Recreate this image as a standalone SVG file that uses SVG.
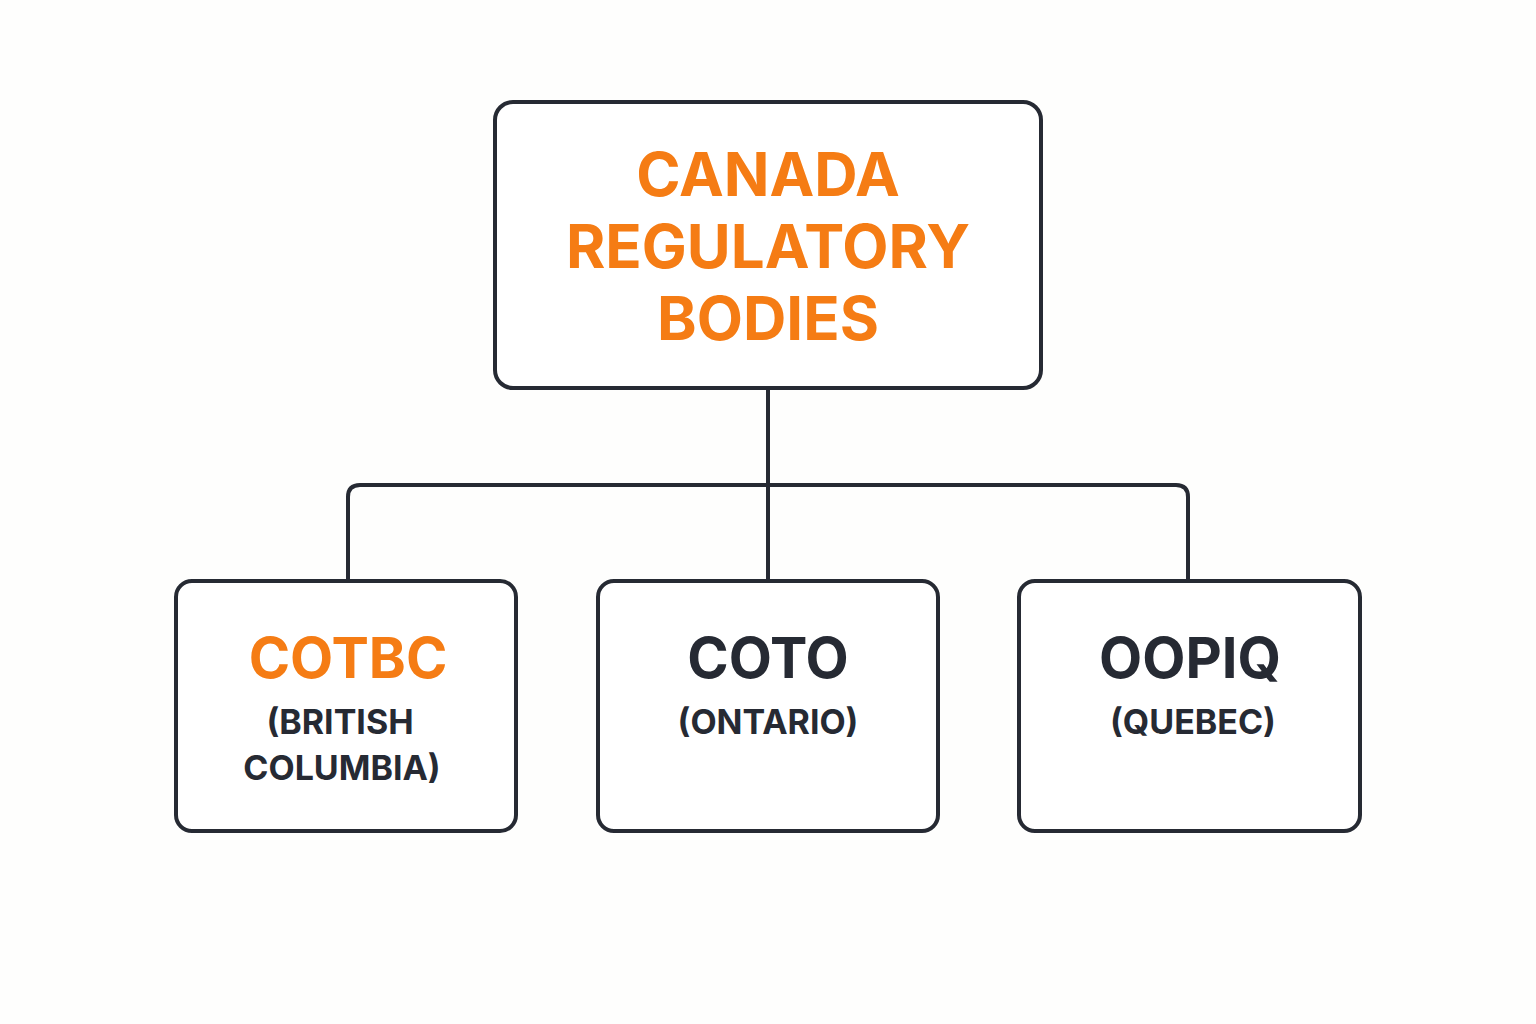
<svg xmlns="http://www.w3.org/2000/svg" width="1536" height="1024" viewBox="0 0 1536 1024">
<style>
.box{fill:#fff;stroke:#262a33;stroke-width:4}
.ln{fill:none;stroke:#262a33;stroke-width:4}
.t{font-family:Inter,"Liberation Sans",sans-serif;font-weight:700;text-anchor:middle}
.o{fill:#f57c14}.d{fill:#262a33}
</style>
<rect width="1536" height="1024" fill="#fefefd"/>
<g id="connectors">
<path class="ln" d="M768 388V580M348 580V497Q348 485 360 485H1176Q1188 485 1188 497V580"/>
</g>
<g id="root"><rect class="box" x="495" y="102" width="546" height="286" rx="18"/>
<text class="t o" font-size="60" x="768" y="196">CANADA</text>
<text class="t o" font-size="60" x="768" y="268">REGULATORY</text>
<text class="t o" font-size="60" x="768" y="340">BODIES</text></g>
<g id="cotbc"><rect class="box" x="176" y="581" width="340" height="250" rx="16"/>
<text class="t o" font-size="56" x="348" y="678">COTBC</text>
<text class="t d" font-size="34" x="340" y="734">(BRITISH</text>
<text class="t d" font-size="34" x="342" y="780">COLUMBIA)</text></g>
<g id="coto"><rect class="box" x="598" y="581" width="340" height="250" rx="16"/>
<text class="t d" font-size="56" x="768" y="678">COTO</text>
<text class="t d" font-size="34" x="768" y="734">(ONTARIO)</text></g>
<g id="oopiq"><rect class="box" x="1019" y="581" width="341" height="250" rx="16"/>
<text class="t d" font-size="56" x="1190" y="678">OOPIQ</text>
<text class="t d" font-size="34" x="1193" y="734">(QUEBEC)</text></g>
</svg>
